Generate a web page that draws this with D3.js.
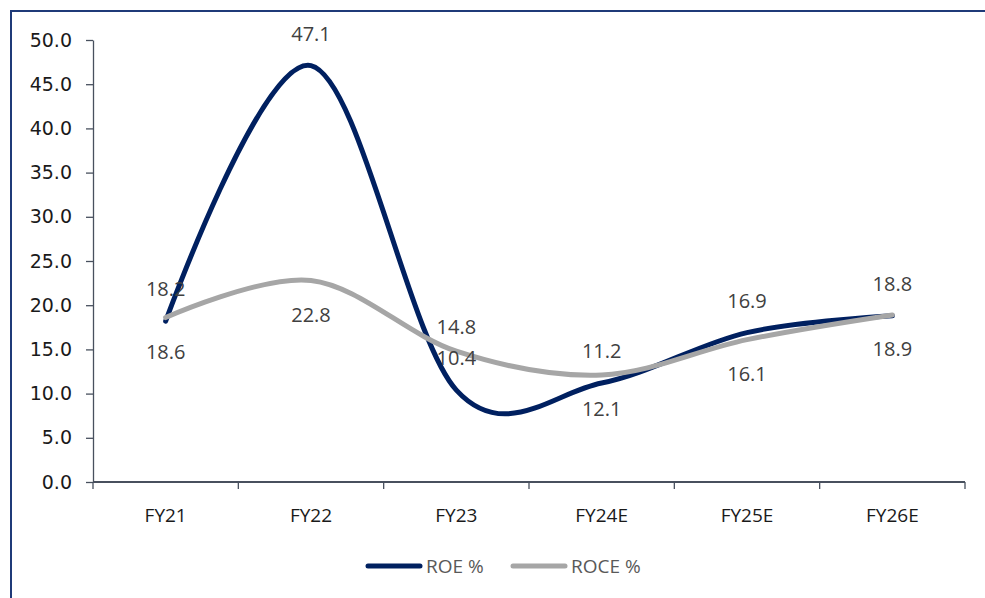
<!DOCTYPE html>
<html>
<head>
<meta charset="utf-8">
<script src="https://cdn.jsdelivr.net/npm/d3@7"></script>
<style>
  html, body { margin: 0; padding: 0; background: #fff; }
  svg { display: block; }
</style>
</head>
<body>
<svg id="chart" width="985" height="598"></svg>
<script>
// Fiscal years on the category axis
const years = ["FY21", "FY22", "FY23", "FY24E", "FY25E", "FY26E"];
// Return ratios, in percent
const roe = [18.2, 47.1, 10.4, 11.2, 16.9, 18.8];
const roce = [18.6, 22.8, 14.8, 12.1, 16.1, 18.9];
// Value axis ticks
const yTicks = [0, 5, 10, 15, 20, 25, 30, 35, 40, 45, 50];

const svg = d3.select("#chart");
const W = 985, H = 598;
const plot = { left: 93, right: 965, top: 40, bottom: 482 };

// outer frame (top and left edges)
svg.append("path")
  .attr("d", `M11,${H} L11,11 L${W},11`)
  .attr("fill", "none")
  .attr("stroke", "#1f3a78")
  .attr("stroke-width", 2);

const x = d3.scaleBand().domain(years).range([plot.left, plot.right]).paddingInner(0).paddingOuter(0);
const cx = d => x(d) + x.bandwidth() / 2;
const y = d3.scaleLinear().domain([0, 50]).range([plot.bottom, plot.top]);

const axisColor = "#48505e";

// y axis
const yAxis = svg.append("g")
  .attr("transform", `translate(${plot.left},0)`)
  .call(d3.axisLeft(y).tickValues(yTicks).tickFormat(d3.format(".1f")).tickSizeInner(7).tickSizeOuter(0).tickPadding(14));
yAxis.select(".domain").attr("stroke", axisColor).attr("stroke-width", 1.3);
yAxis.selectAll(".tick line").attr("stroke", axisColor).attr("stroke-width", 1.3);
yAxis.selectAll(".tick text")
  .attr("fill", "#1a1a1a")
  .style("font-family", "'DejaVu Sans', sans-serif")
  .style("font-size", "19px");

// x axis with ticks on category boundaries
const xAxisG = svg.append("g").attr("transform", `translate(0,${plot.bottom})`);
xAxisG.append("line")
  .attr("x1", plot.left).attr("x2", plot.right)
  .attr("stroke", axisColor).attr("stroke-width", 2);
const boundaries = years.map(d => x(d)).concat([x(years[years.length - 1]) + x.bandwidth()]);
xAxisG.selectAll("line.tk").data(boundaries).join("line")
  .attr("class", "tk")
  .attr("x1", d => d).attr("x2", d => d)
  .attr("y1", 0).attr("y2", 7)
  .attr("stroke", axisColor).attr("stroke-width", 1.3);
xAxisG.selectAll("text").data(years).join("text")
  .attr("x", d => cx(d))
  .attr("y", 40)
  .attr("text-anchor", "middle")
  .attr("fill", "#1a1a1a")
  .style("font-family", "'Open Sans', sans-serif")
  .style("font-size", "19px")
  .text(d => d);

const line = d3.line()
  .x((d, i) => cx(years[i]))
  .y(d => y(d))
  .curve(d3.curveCardinal.tension(0));

const series = [
  { name: "ROE %", values: roe, color: "#002060", labelDy: () => -32 },
  { name: "ROCE %", values: roce, color: "#a6a6a6", labelDy: i => (years[i] === "FY23" ? -24 : 34) }
];

series.forEach(s => {
  svg.append("path")
    .datum(s.values)
    .attr("d", line)
    .attr("fill", "none")
    .attr("stroke", s.color)
    .attr("stroke-width", 5)
    .attr("stroke-linecap", "round")
    .attr("stroke-linejoin", "round");
});

series.forEach(s => {
  svg.append("g").selectAll("text").data(s.values).join("text")
    .attr("x", (d, i) => cx(years[i]))
    .attr("y", (d, i) => y(d) + s.labelDy(i))
    .attr("dy", "0.36em")
    .attr("text-anchor", "middle")
    .attr("fill", "#404040")
    .style("font-family", "'Open Sans', sans-serif")
    .style("font-size", "20px")
    .text(d => d.toFixed(1));
});

// legend
const legend = svg.append("g");
const legendItems = [
  { s: series[0], x0: 368 },
  { s: series[1], x0: 513 }
];
legendItems.forEach(({ s, x0 }) => {
  legend.append("line")
    .attr("x1", x0).attr("x2", x0 + 52)
    .attr("y1", 566).attr("y2", 566)
    .attr("stroke", s.color)
    .attr("stroke-width", 5)
    .attr("stroke-linecap", "round");
  legend.append("text")
    .attr("x", x0 + 58)
    .attr("y", 566)
    .attr("dy", "0.36em")
    .attr("fill", "#595959")
    .style("font-family", "'Open Sans', sans-serif")
    .style("font-size", "19px")
    .text(s.name);
});
</script>
</body>
</html>
